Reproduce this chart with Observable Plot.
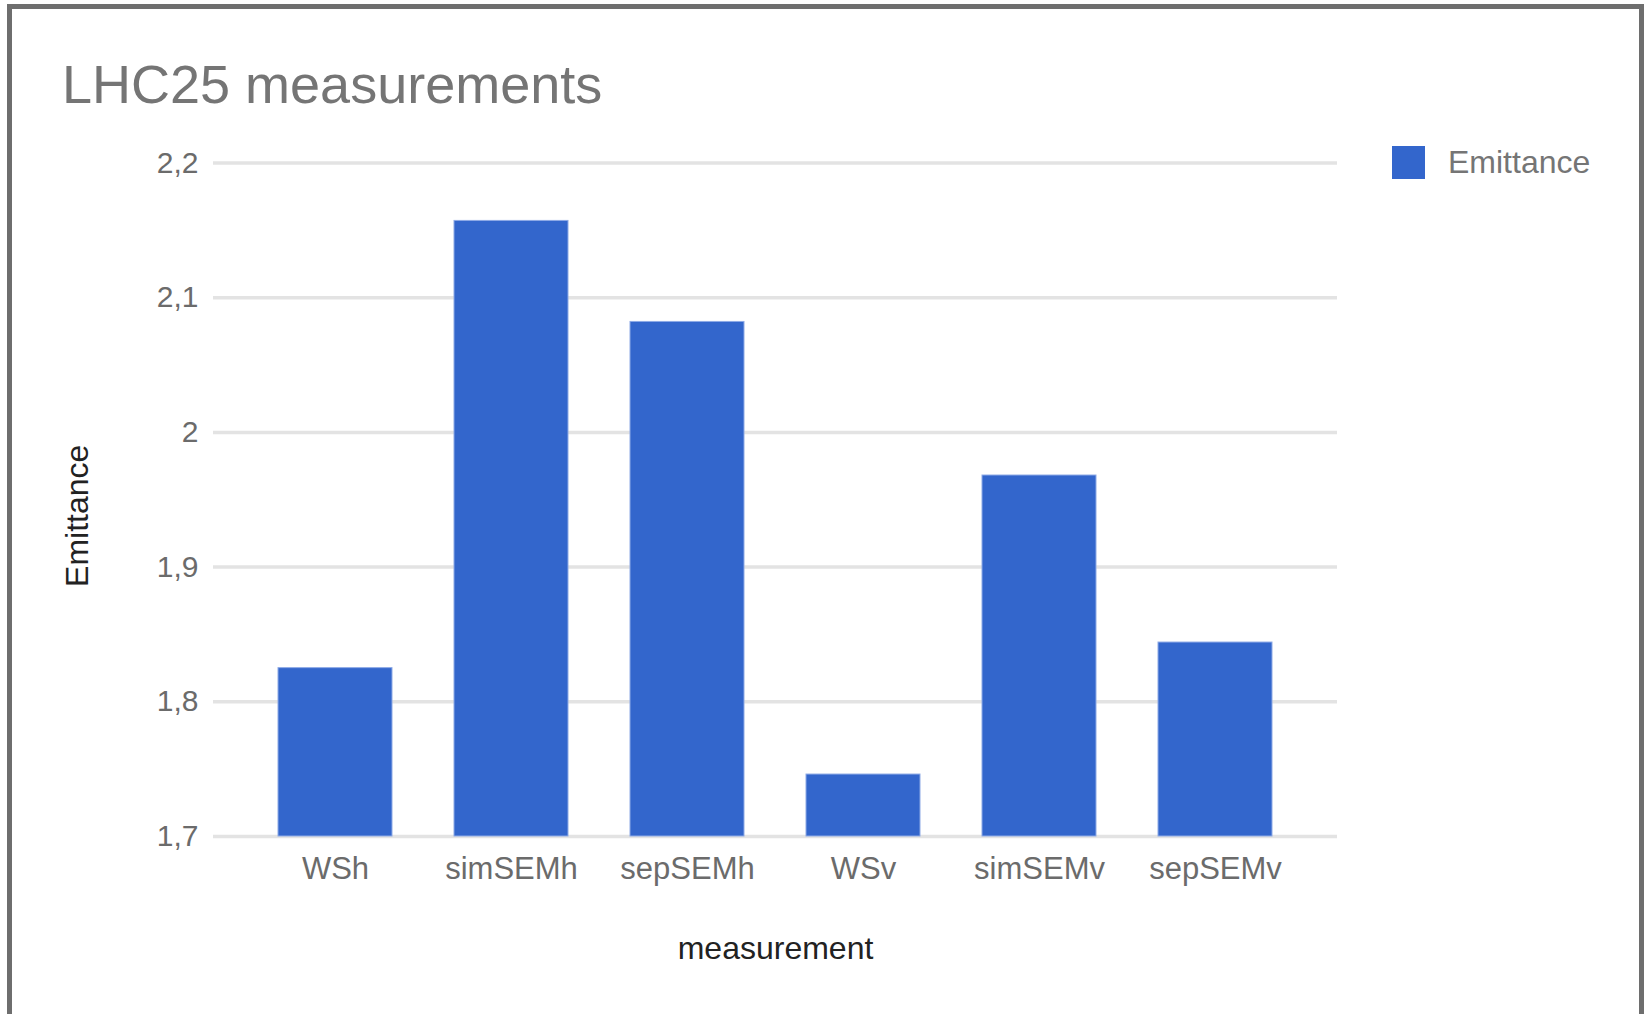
<!DOCTYPE html>
<html>
<head>
<meta charset="utf-8">
<script src="https://cdn.jsdelivr.net/npm/d3@7"></script>
<script src="https://cdn.jsdelivr.net/npm/@observablehq/plot@0.6"></script>
<style>
  html, body { margin: 0; padding: 0; background: #fff; }
  body { width: 1644px; height: 1014px; overflow: hidden; position: relative; font-family: "Liberation Sans", Arial, sans-serif; }
  #frame { position: absolute; left: 7px; top: 4px; width: 1637px; height: 1100px; border: 5px solid #6e6e6e; box-sizing: border-box; }
  #title { position: absolute; left: 62px; top: 57px; font-size: 54px; line-height: 54px; color: #757575; white-space: nowrap; }
  #chart { position: absolute; left: 0; top: 130px; }
  #legend { position: absolute; left: 1392px; top: 145px; display: flex; align-items: center; height: 34px; }
  #legend .swatch { width: 33px; height: 33px; background: #3366cc; margin-right: 23px; }
  #legend .name { font-size: 32px; color: #757575; white-space: nowrap; }
</style>
</head>
<body>
<div id="frame"></div>
<div id="title">LHC25 measurements</div>
<div id="chart"></div>
<div id="legend"><div class="swatch"></div><div class="name">Emittance</div></div>
<script>
// Emittance per measurement method
const categories = ["WSh", "simSEMh", "sepSEMh", "WSv", "simSEMv", "sepSEMv"];
const emittance = [1.825, 2.157, 2.082, 1.746, 1.968, 1.844];
const yTicks = [1.7, 1.8, 1.9, 2.0, 2.1, 2.2];

const rows = categories.map((m, i) => ({measurement: m, emittance: emittance[i]}));

// decimal comma, no trailing zero ("2" rather than "2,0")
const commaFormat = d => String(Math.round(d * 10) / 10).replace(".", ",");

const chart = Plot.plot({
  width: 1644,
  height: 884,
  marginLeft: 213,
  marginRight: 307,
  marginTop: 32.5,
  marginBottom: 178,
  style: {fontFamily: "'Liberation Sans', Arial, sans-serif", background: "transparent"},
  x: {type: "band", domain: categories, paddingInner: 0.35, paddingOuter: 0.36, axis: null},
  y: {domain: [yTicks[0], yTicks[yTicks.length - 1]], axis: null},
  marks: [
    Plot.ruleY(yTicks, {stroke: "#e3e3e3", strokeWidth: 3.5}),
    Plot.barY(rows, {
      x: "measurement",
      y1: yTicks[0],
      y2: "emittance",
      fill: "#3366cc",
      stroke: "#8eaae6",
      strokeWidth: 1
    }),
    Plot.axisY(yTicks, {tickSize: 0, tickPadding: 15, fontSize: 30, fill: "#6b6b6b", tickFormat: commaFormat, label: null}),
    Plot.axisX({tickSize: 0, tickPadding: 20, fontSize: 31, fill: "#6b6b6b", label: null}),
    Plot.text(["Emittance"], {frameAnchor: "left", textAnchor: "middle", dx: -135.5, dy: 16, rotate: -90, fontSize: 32, fill: "#222"}),
    Plot.text(["measurement"], {frameAnchor: "bottom", dy: 122, fontSize: 32, fill: "#222"})
  ]
});

document.getElementById("chart").appendChild(chart);
</script>
</body>
</html>
